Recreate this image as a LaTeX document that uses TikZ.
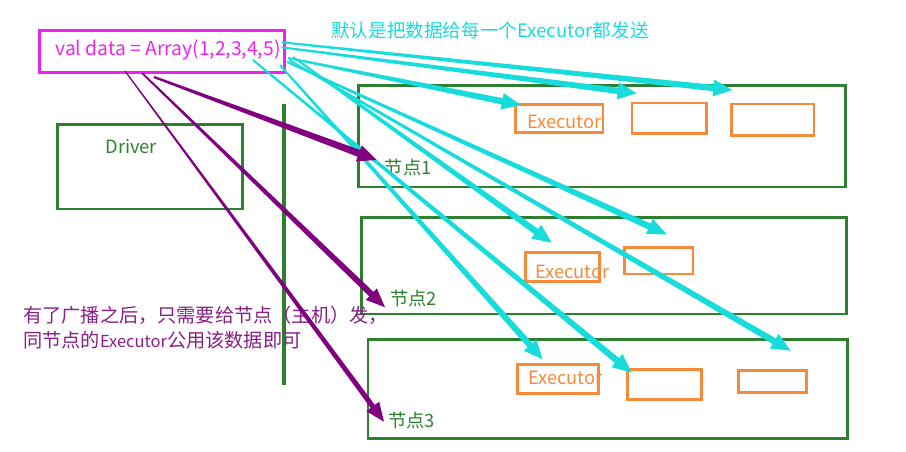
\documentclass[tikz,border=0pt]{standalone}
\usepackage{fontspec}
\setmainfont{Noto Sans CJK SC}
\usetikzlibrary{calc}
\definecolor{grn}{RGB}{46,128,48}
\definecolor{org}{RGB}{246,137,58}
\definecolor{cyn}{RGB}{24,220,220}
\definecolor{mag}{RGB}{238,34,238}
\definecolor{pur}{RGB}{128,0,128}
\definecolor{purtxt}{RGB}{136,30,136}
\newcommand\taper[7]{% colour, start, tip, start half-width, end half-width, head length, head half-width
  \coordinate (tmpH) at ($(#3)!#6!(#2)$);
  \fill[#1] ($(#2)!#4!90:(#3)$) -- ($(tmpH)!#5!90:(#3)$) -- ($(tmpH)!#7!90:(#3)$) -- (#3)
    -- ($(tmpH)!#7!-90:(#3)$) -- ($(tmpH)!#5!-90:(#3)$) -- ($(#2)!#4!-90:(#3)$) -- cycle;
}
\tikzset{
  grbox/.style={draw=grn, line width=2.8pt, inner sep=0pt, outer sep=0pt, anchor=north west},
  exbox/.style={draw=org, line width=2.7pt, inner sep=0pt, outer sep=0pt, anchor=north west},
  srcbox/.style={draw=mag, line width=3pt, inner sep=0pt, outer sep=0pt, anchor=north west},
  lbl/.style={inner sep=0pt, font=\fontsize{18.3}{22}\selectfont},
  extxt/.style={lbl, text=org},
  nodetxt/.style={lbl, text=grn},
}
\begin{document}
\begin{tikzpicture}[x=1pt,y=-1pt]
\useasboundingbox (0,0) rectangle (906,452);
% source box
\node[srcbox, minimum width=245pt, minimum height=41.7pt] (src) at (39.2,30.8) {};
\node[inner sep=0pt, text=mag, font=\fontsize{19.3}{24}\selectfont] (srctxt) at (168,50) {val data = Array(1,2,3,4,5)};
% title
\node[lbl, text=cyn, font=\fontsize{18.6}{22}\selectfont] (title) at (490,30.7) {默认是把数据给每一个Executor都发送};
% driver
\node[grbox, minimum width=185.2pt, minimum height=84.3pt] (drv) at (57.3,124.7) {};
\node[lbl, text=grn] (drvtxt) at (131.2,146.7) {Driver};
% separator
\coordinate (vtop) at (284,104);
\coordinate (vbot) at (284,385);
\draw[grn, line width=4.3pt] (vtop) -- (vbot);
% worker nodes
\node[grbox, minimum width=487pt, minimum height=101.2pt] (n1) at (358.5,85.8) {};
\node[grbox, minimum width=485pt, minimum height=96.5pt] (n2) at (361.5,217.5) {};
\node[grbox, minimum width=479.3pt, minimum height=99.3pt] (n3) at (368,339.5) {};
\node[nodetxt] (n1txt) at (408.3,167.3) {节点1};
\node[nodetxt] (n2txt) at (413.7,299) {节点2};
\node[nodetxt] (n3txt) at (411.7,421) {节点3};
% executors
\node[exbox, minimum width=87.3pt, minimum height=28pt] (e11) at (515.7,104.7) {};
\node[exbox, minimum width=74.3pt, minimum height=30.3pt] (e12) at (632,103) {};
\node[exbox, minimum width=82.3pt, minimum height=31.3pt] (e13) at (731.7,104) {};
\node[exbox, minimum width=74.2pt, minimum height=28.6pt] (e21) at (525.3,252.7) {};
\node[exbox, minimum width=68.3pt, minimum height=26.3pt] (e22) at (624.7,247.7) {};
\node[exbox, minimum width=81.5pt, minimum height=29pt] (e31) at (517.3,364.7) {};
\node[exbox, minimum width=74.2pt, minimum height=30pt] (e32) at (627.5,369.7) {};
\node[exbox, minimum width=68.5pt, minimum height=21.5pt] (e33) at (738.3,370.7) {};
\node[extxt] (e11txt) at (564.5,121.7) {Executor};
\node[extxt] (e21txt) at (572.5,272) {Executor};
\node[extxt] (e31txt) at (565.5,378) {Executor};
% note
\node[inner sep=0pt, anchor=north west, align=left, text=purtxt, font=\fontsize{19.2}{25}\selectfont] (note) at (23,305.5)
  {有了广播之后，只需要给节点（主机）发，\\同节点的{\fontsize{16.5}{25}\selectfont Executor}公用该数据即可};
% cyan arrow ends
\coordinate (s13) at (281.7,42.3);  \coordinate (t13) at (732.3,90);
\coordinate (s12) at (281.7,47.3);  \coordinate (t12) at (636.7,93.3);
\coordinate (s11) at (288,58);      \coordinate (t11) at (520.7,105);
\coordinate (s22) at (287,62);      \coordinate (t22) at (666.7,234.3);
\coordinate (s21) at (293,57);      \coordinate (t21) at (551.7,242.7);
\coordinate (s33) at (289,60);      \coordinate (t33) at (790.7,350.7);
\coordinate (s32) at (253,60);      \coordinate (t32) at (631.7,372.7);
\coordinate (s31) at (280,65);      \coordinate (t31) at (542.7,359.3);
\taper{cyn}{s13}{t13}{1pt}{3.2pt}{19pt}{8.5pt}
\taper{cyn}{s12}{t12}{1pt}{3.2pt}{19pt}{8.5pt}
\taper{cyn}{s11}{t11}{1pt}{3.2pt}{19pt}{8.5pt}
\taper{cyn}{s22}{t22}{1pt}{3.2pt}{19pt}{8.5pt}
\taper{cyn}{s21}{t21}{1pt}{3.2pt}{19pt}{8.5pt}
\taper{cyn}{s33}{t33}{1pt}{3.2pt}{19pt}{8.5pt}
\taper{cyn}{s32}{t32}{1pt}{3.2pt}{19pt}{8.5pt}
\taper{cyn}{s31}{t31}{1pt}{3.2pt}{19pt}{8.5pt}
% purple arrows
\coordinate (p1s) at (154,77);  \coordinate (p1t) at (376.7,160);
\coordinate (p2s) at (142,73);  \coordinate (p2t) at (385,307.3);
\coordinate (p3s) at (125,71);  \coordinate (p3t) at (384,421.7);
\taper{pur}{p1s}{p1t}{1.1pt}{3.6pt}{19pt}{8.5pt}
\taper{pur}{p2s}{p2t}{0.9pt}{3.1pt}{19pt}{8pt}
\taper{pur}{p3s}{p3t}{0.6pt}{2.6pt}{19pt}{8pt}
\end{tikzpicture}
\end{document}
